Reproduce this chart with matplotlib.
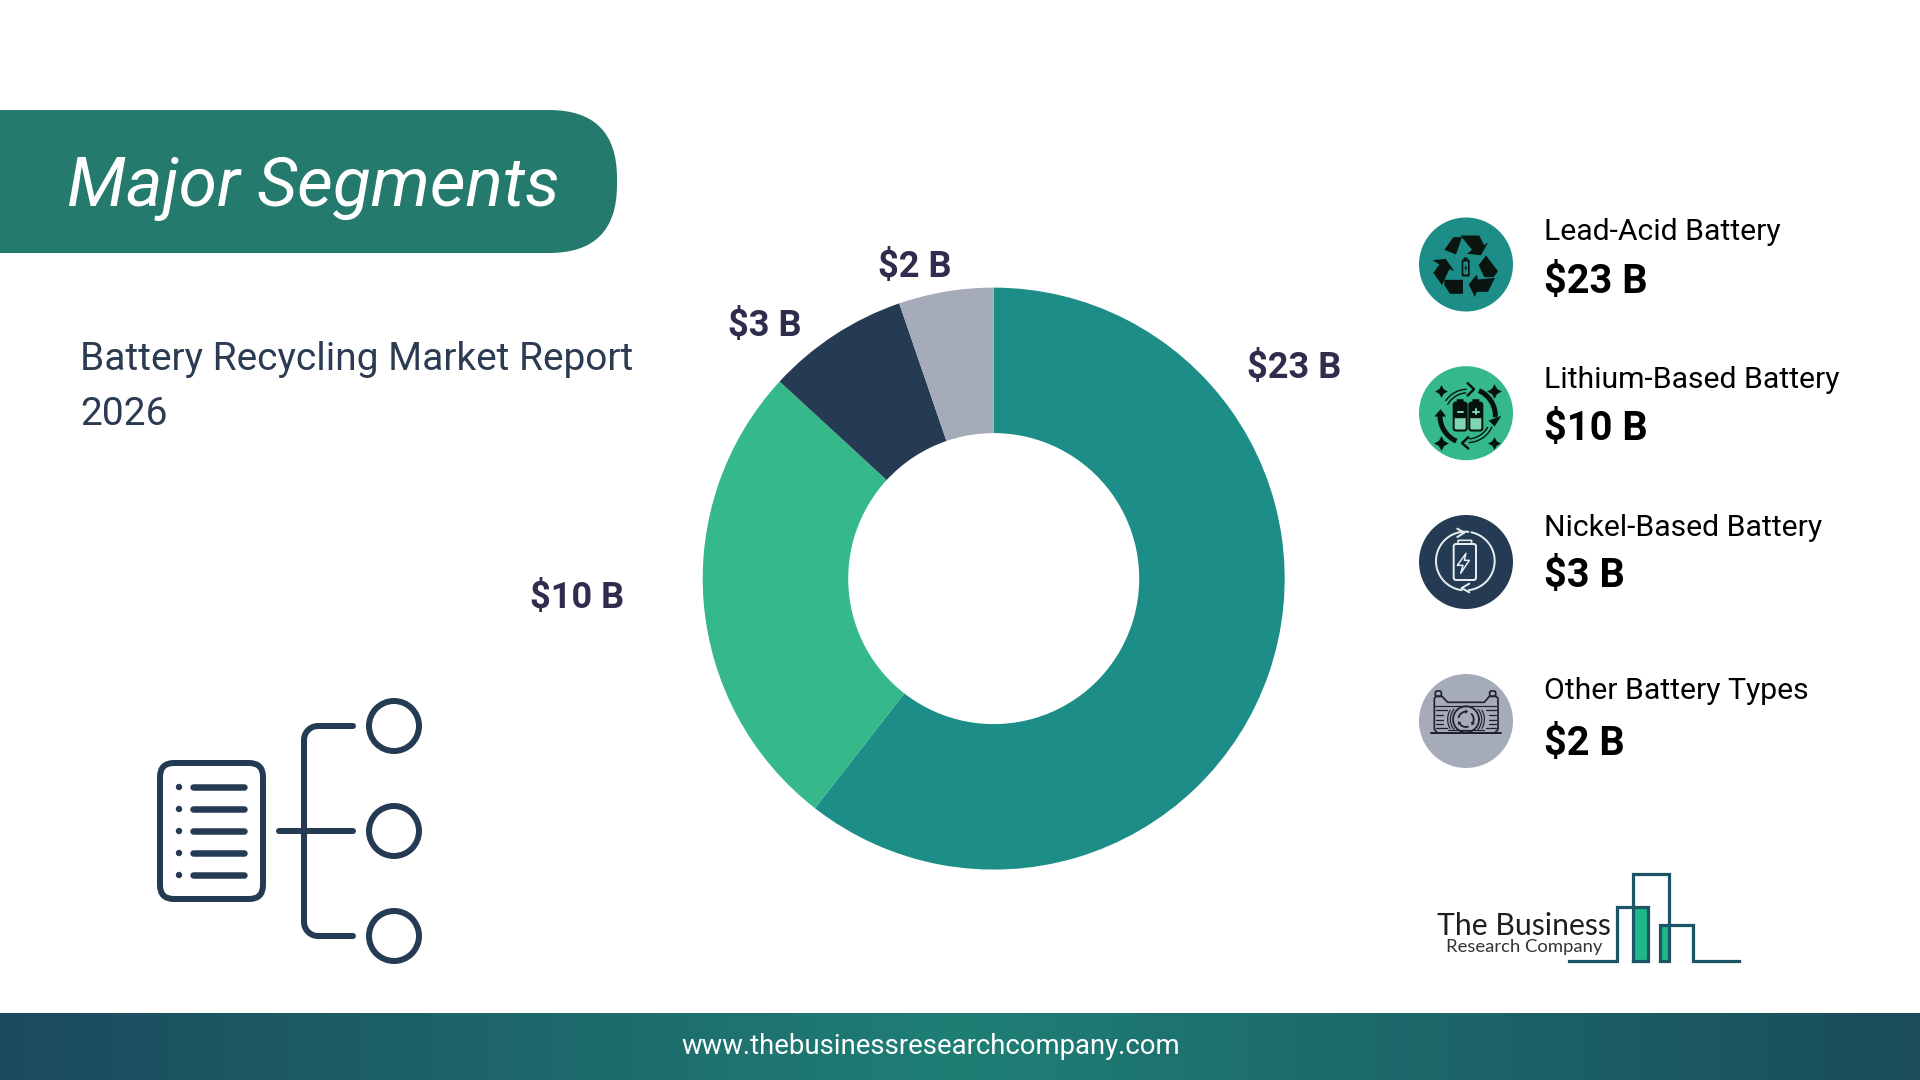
import numpy as np
import matplotlib
matplotlib.use("Agg")
import matplotlib.pyplot as plt
from matplotlib.patches import Circle, FancyBboxPatch, Polygon, Rectangle
from matplotlib.colors import LinearSegmentedColormap

# ---- data ----
segments = ["Lead-Acid Battery", "Lithium-Based Battery", "Nickel-Based Battery", "Other Battery Types"]
values = [23, 10, 3, 2]
value_labels = ["$23 B", "$10 B", "$3 B", "$2 B"]
colors = ["#1C8E87", "#35B88A", "#243B53", "#A6ABB9"]
title = "Major Segments"
subtitle = "Battery Recycling Market Report\n2026"
url = "www.thebusinessresearchcompany.com"

NAVY = "#243B53"
plt.rcParams["font.family"] = ["Roboto", "DejaVu Sans"]
plt.rcParams["mathtext.default"] = "regular"

fig = plt.figure(figsize=(19.2, 10.8), dpi=100, facecolor="white")
bg = fig.add_axes([0, 0, 1, 1])
bg.set_xlim(0, 1920)
bg.set_ylim(1080, 0)
bg.axis("off")


def px(v):
    return v * 0.72


# footer gradient
cm = LinearSegmentedColormap.from_list("f", ["#1B4A5D", "#1F7F75", "#1A4C5C"])
bg.imshow(np.linspace(0, 1, 512)[None, :], extent=(0, 1920, 1080, 1013), cmap=cm, aspect="auto", zorder=1)
bg.set_xlim(0, 1920)
bg.set_ylim(1080, 0)
bg.text(931, 1047, url, color="white", fontsize=19.8, ha="center", va="center", zorder=3)

# banner
bg.add_patch(FancyBboxPatch((-120, 110), 737, 143, boxstyle="round,pad=0,rounding_size=68",
                            fc="#247A6C", ec="none", zorder=2))
bg.text(67, 206, title, color="white", fontsize=50, style="italic", ha="left", va="baseline", zorder=3)
bg.text(80, 370, subtitle.split("\n")[0], color="#2A3B52", fontsize=28, ha="left", va="baseline")
bg.text(80, 425, subtitle.split("\n")[1], color="#2A3B52", fontsize=28, ha="left", va="baseline")

# donut
cx, cy, R = 993.7, 578.6, 291
pie = fig.add_axes([(cx - R) / 1920, 1 - (cy + R) / 1080, 2 * R / 1920, 2 * R / 1080])
pie.pie(values, colors=colors, startangle=90, counterclock=False, radius=1,
        wedgeprops=dict(width=0.5, edgecolor="none"))
pie.set_xlim(-1, 1)
pie.set_ylim(-1, 1)
pie.set_aspect("equal")
pie.axis("off")

label_pos = [(1294, 368), (577, 598), (765, 326), (915, 267)]
for s, (x, y) in zip(value_labels, label_pos):
    bg.text(x, y, s, color="#2E2D4D", fontsize=26, fontweight="bold", ha="center", va="center")

# legend
lx, ly = 1466, [264.5, 413.2, 562, 721]
name_y = [232, 380, 528, 691]
val_y = [282, 429, 576, 744]
for name, vl, c, yc, ny, vy in zip(segments, value_labels, colors, ly, name_y, val_y):
    bg.add_patch(Circle((lx, yc), 47, fc=c, ec="none", zorder=2))
    bg.text(1544, ny, name, color="black", fontsize=21.7, ha="left", va="center")
    bg.text(1544, vy, vl, color="black", fontsize=28.6, fontweight="bold", ha="left", va="center")


# ---- icons, drawn in the 0..300 space of a 100px box around each circle ----
class Icon:
    def __init__(self, yc):
        self.x0 = lx - 50
        self.y0 = yc - 50

    def T(self, pts):
        a = np.asarray(pts, float)
        return np.c_[self.x0 + a[:, 0] / 3, self.y0 + a[:, 1] / 3]

    def poly(self, pts, fc="none", ec="none", lw=0, z=3):
        bg.add_patch(Polygon(self.T(pts), closed=True, fc=fc, ec=ec, lw=px(lw), zorder=z, joinstyle="round"))

    def line(self, pts, color, lw, z=3, cap="round"):
        p = self.T(pts)
        bg.plot(p[:, 0], p[:, 1], color=color, lw=px(lw), zorder=z, solid_capstyle=cap, solid_joinstyle="round")

    def arc(self, cx, cy, r, a0, a1, color, lw, z=3, cap="round"):
        t = np.radians(np.linspace(a0, a1, 40))
        self.line(np.c_[cx + r * np.cos(t), cy - r * np.sin(t)], color, lw, z, cap)

    def rr(self, x0, y0, x1, y1, rad, ec="none", fc="none", lw=0, z=3):
        p = self.T([(x0, y0), (x1, y1)])
        bg.add_patch(FancyBboxPatch(p[0], p[1, 0] - p[0, 0], p[1, 1] - p[0, 1],
                                    boxstyle=f"round,pad=0,rounding_size={rad / 3}",
                                    fc=fc, ec=ec, lw=px(lw), zorder=z))

    def star(self, x, y, r, color):
        p = self.T([(x, y)])[0]
        bg.plot(p[0], p[1], marker=(4, 1, 0), ms=2 * px(r / 3), color=color, mec="none", zorder=3)


# icon 1: recycle
ic = Icon(264.5)
K = "#0A1512"
for shape in [
    [(85, 106), (112, 68), (138, 68), (120, 120)],
    [(133, 63), (190, 63), (204, 92), (216, 84), (195, 122), (153, 118), (168, 106)],
    [(188, 152), (210, 123), (246, 170), (233, 188), (205, 188)],
    [(237, 190), (216, 232), (182, 232), (177, 248), (158, 210), (182, 180), (186, 195)],
    [(85, 196), (141, 196), (141, 238), (102, 238), (85, 212)],
    [(50, 137), (89, 133), (115, 170), (100, 164), (78, 212), (52, 175), (70, 150)],
]:
    ic.poly(shape, fc=K)
ic.rr(137, 135, 161, 186, 4, fc=K)
ic.rr(143, 129, 155, 136, 1, fc=K)
ic.rr(142, 141, 156, 180, 2, fc="#1C8E87", z=4)
ic.poly([(150, 150), (145, 162), (149, 162), (148, 172), (154, 158), (150, 158)], fc=K, z=5)

# icon 2: lithium
ic = Icon(413.2)
K = "#06120E"
A, B = 155, 158
ic.arc(A, B, 83, 66, -3, K, 5, cap="butt")
ic.poly([(218, 172), (256, 158), (236, 190)], fc=K)
ic.arc(A, B, 83, 246, 178, K, 5, cap="butt")
ic.poly([(55, 160), (90, 160), (74, 138)], fc=K)
ic.arc(A, B, 69, 150, 95, K, 1.4)
ic.arc(A, B, 80, 145, 93, K, 1.4)
ic.line([(155, 60), (174, 78), (155, 97)], K, 2.4)
ic.arc(A, B, 69, -30, -85, K, 1.4)
ic.arc(A, B, 80, -25, -87, K, 1.4)
ic.line([(157, 222), (138, 240), (157, 256)], K, 2.4)
for x0, x1, sign in ((113, 152, "-"), (160, 199, "+")):
    ic.rr(x0, 118, x1, 202, 7, ec=K, fc="#7FD4B2", lw=2)
    ic.rr(x0, 118, x1, 165, 7, fc=K)
    ic.rr(x0 + 9, 108, x1 - 9, 119, 2, fc=K)
    m = (x0 + x1) / 2
    ic.line([(m - 8, 145), (m + 8, 145)], "#7FD4B2", 2, z=4)
    if sign == "+":
        ic.line([(m, 137), (m, 153)], "#7FD4B2", 2, z=4)
for x, y, r in ((76, 82, 19), (235, 82, 22), (75, 240, 22), (235, 240, 19)):
    ic.star(x, y, r, K)

# icon 3: nickel
ic = Icon(562)
W = "#E6ECF0"
ic.arc(148, 147, 88, 84, 263, W, 2)
ic.arc(148, 147, 88, 78, -83, W, 2)
ic.line([(124, 50), (145, 62), (124, 75)], W, 2)
ic.line([(160, 215), (137, 228), (160, 241)], W, 2)
ic.rr(113, 96, 180, 204, 7, ec=W, lw=2)
ic.rr(126, 85, 167, 96, 2, ec=W, lw=1.6)
ic.poly([(150, 124), (124, 160), (141, 160), (134, 184), (160, 145), (145, 145)], ec=W, lw=1.5)

# icon 4: other battery types
ic = Icon(721)
K = "#20222B"
ic.line([(45, 187), (255, 187)], K, 2)
ic.line([(66, 187), (55, 175), (55, 82), (60, 76), (78, 76), (95, 94), (205, 94), (220, 76), (240, 76), (246, 82),
         (246, 175), (235, 187)], K, 1.7)
ic.rr(58, 60, 76, 76, 5, ec=K, lw=1.7)
ic.rr(221, 60, 239, 76, 5, ec=K, lw=1.7)
ic.line([(58, 104), (240, 104)], K, 1.2)
ic.line([(95, 178), (205, 178)], K, 1.2)
for y, ln in ((118, 32), (132, 22), (146, 22), (160, 22), (172, 32)):
    ic.line([(60, y), (60 + ln, y)], K, 1.3)
    ic.line([(241 - ln, y), (241, y)], K, 1.3)
ic.arc(150, 145, 39, 0, 360, K, 1.8)
ic.arc(150, 145, 47, 140, 220, K, 1.2)
ic.arc(150, 145, 55, 150, 210, K, 1.2)
ic.arc(150, 145, 47, -40, 40, K, 1.2)
ic.arc(150, 145, 55, -30, 30, K, 1.2)
for a in (120, 240, 0):
    ic.arc(150, 145, 23, a + 45, a - 25, K, 1.8)
    t = np.radians(a - 25)
    tipx, tipy = 150 + 23 * np.cos(t), 145 - 23 * np.sin(t)
    ic.poly([(tipx + 7 * np.cos(t), tipy - 7 * np.sin(t)), (tipx - 7 * np.cos(t), tipy + 7 * np.sin(t)),
             (tipx + 9 * np.sin(t), tipy + 9 * np.cos(t))], fc=K)

# list / tree icon
bg.add_patch(FancyBboxPatch((160, 763), 103, 136, boxstyle="round,pad=0,rounding_size=14",
                            fc="none", ec=NAVY, lw=px(6), zorder=3))
for y in (787, 809, 831, 853, 875):
    bg.add_patch(Circle((179, y), 3.2, fc=NAVY, ec="none", zorder=3))
    bg.plot([193, 244], [y, y], color=NAVY, lw=px(6.5), solid_capstyle="round", zorder=3)
bg.plot([279, 353], [831, 831], color=NAVY, lw=px(6), solid_capstyle="round", zorder=3)
t = np.radians(np.linspace(90, 180, 12))
c1 = np.c_[318 + 14 * np.cos(t), 740 - 14 * np.sin(t)]
t = np.radians(np.linspace(180, 270, 12))
c2 = np.c_[318 + 14 * np.cos(t), 922 - 14 * np.sin(t)]
path = np.vstack([[[353, 726]], c1, c2, [[353, 936]]])
bg.plot(path[:, 0], path[:, 1], color=NAVY, lw=px(6), solid_capstyle="round", solid_joinstyle="round", zorder=3)
for y in (726, 831, 936):
    bg.add_patch(Circle((394, y), 25, fc="none", ec=NAVY, lw=px(6), zorder=3))

# logo
LC = "#1D5466"
G = "#1FB88A"
bg.add_patch(Rectangle((1633, 907), 15, 54, fc=G, ec="none", zorder=2))
bg.add_patch(Rectangle((1660, 925), 9, 36, fc=G, ec="none", zorder=2))
logo_paths = [
    [(1569, 961), (1617, 961), (1617, 907), (1648, 907), (1648, 961), (1633, 961)],
    [(1633, 961), (1633, 874), (1669, 874), (1669, 961), (1660, 961), (1660, 925), (1693, 925), (1693, 961), (1739, 961)],
]
for p in logo_paths:
    bg.plot(*zip(*p), color=LC, lw=px(3.2), solid_joinstyle="miter", zorder=3)
bg.text(1437, 935, "The Business", color="#1E1E1E", fontsize=21.7, family="Lato", ha="left", va="baseline")
bg.text(1446, 952, "Research Company", color="#333333", fontsize=13.3, family="Lato", ha="left", va="baseline")

fig.savefig("out.png", dpi=100, facecolor="white")
